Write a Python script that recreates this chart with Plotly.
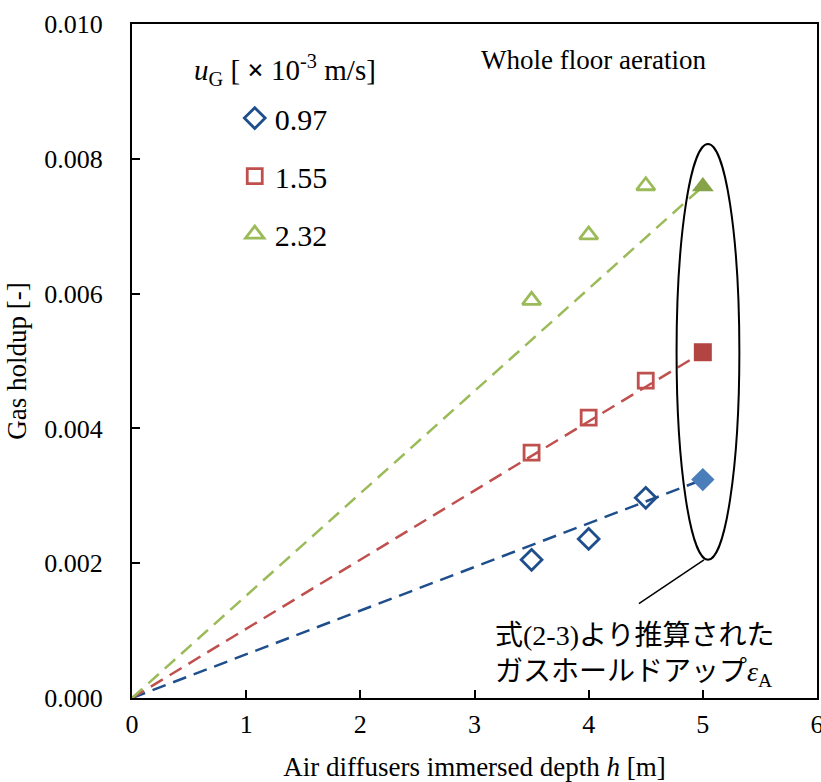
import plotly.graph_objects as go

# Measured gas holdup at three immersion depths per superficial velocity
depth = [3.5, 4.0, 4.5]
holdup_097 = [0.00205, 0.00236, 0.00297]
holdup_155 = [0.00364, 0.00416, 0.00471]
holdup_232 = [0.00590, 0.00687, 0.00760]

# Holdup estimated by Eq. (2-3) at the 5 m depth
depth_est = 5.0
est_097 = 0.00324
est_155 = 0.00513
est_232 = 0.00759

ug_labels = ["0.97", "1.55", "2.32"]
x_ticks = [0, 1, 2, 3, 4, 5, 6]
y_ticks = [0.000, 0.002, 0.004, 0.006, 0.008, 0.010]

series = [
    dict(label=ug_labels[0], y=holdup_097, est=est_097, sym="diamond",
         open_col="#1F4E8C", fill_col="#4A7EBB", line_col="#1F4E8C", size=16, fsize=18),
    dict(label=ug_labels[1], y=holdup_155, est=est_155, sym="square",
         open_col="#C0504D", fill_col="#B24542", line_col="#C0504D", size=15, fsize=18),
    dict(label=ug_labels[2], y=holdup_232, est=est_232, sym="triangle-up",
         open_col="#9BBB59", fill_col="#86A348", line_col="#9BBB59", size=16, fsize=19),
]

serif = "Liberation Serif, Times New Roman, serif"
fig = go.Figure()

for i, s in enumerate(series):
    # Proportional fit through the origin and the estimated point
    fig.add_trace(go.Scatter(
        x=[0, depth_est], y=[0, s["est"]], mode="lines",
        line=dict(color=s["line_col"], width=2.5, dash="14px,8px"),
        showlegend=False, hoverinfo="skip"))
    fig.add_trace(go.Scatter(
        x=depth, y=s["y"], mode="markers", name=s["label"],
        legendgroup=s["label"],
        marker=dict(symbol=s["sym"] + "-open", size=s["size"],
                    color=s["open_col"], line=dict(width=2.8, color=s["open_col"]))))
    fig.add_trace(go.Scatter(
        x=[depth_est], y=[s["est"]], mode="markers", showlegend=False,
        marker=dict(symbol=s["sym"], size=s["fsize"], color=s["fill_col"],
                    line=dict(width=0))))

# Ellipse around the estimated values and its leader line
fig.add_shape(type="circle", xref="x", yref="y",
              x0=4.77, x1=5.32, y0=0.00205, y1=0.00822,
              line=dict(color="black", width=2))
fig.add_shape(type="line", xref="x", yref="y",
              x0=5.01, y0=0.00205, x1=4.44, y1=0.00140,
              line=dict(color="black", width=1.5))

fig.add_annotation(
    xref="paper", yref="paper", x=0.674, y=0.947, xanchor="center", yanchor="middle",
    text="Whole floor aeration", showarrow=False,
    font=dict(family=serif, size=27, color="black"))

fig.add_annotation(
    xref="paper", yref="paper", x=0.088, y=0.932, xanchor="left", yanchor="middle",
    text="<i>u</i><sub>G</sub> [ <b>×</b> 10<sup>-3</sup> m/s]", showarrow=False,
    font=dict(family=serif, size=29, color="black"))

fig.add_annotation(
    xref="paper", yref="paper", x=0.527, y=0.068, xanchor="left", yanchor="middle",
    align="left", showarrow=False,
    text=("式<span style='font-family:Liberation Serif'>(2-3)</span>より推算された<br>"
          "ガスホールドアップ<span style='font-family:Liberation Serif'><i>ε</i>"
          "<sub>A</sub></span>"),
    font=dict(family="Noto Sans CJK JP", size=28, color="black"))

fig.update_layout(
    width=821, height=782,
    margin=dict(l=132, r=4, t=24, b=84),
    paper_bgcolor="white", plot_bgcolor="white",
    font=dict(family=serif, size=26, color="black"),
    showlegend=True,
    legend=dict(x=0.15, y=0.899, xanchor="left", yanchor="top",
                bgcolor="rgba(0,0,0,0)", tracegroupgap=16,
                font=dict(family=serif, size=30, color="black")),
    xaxis=dict(range=[0, 6], tickvals=x_ticks, ticks="inside", ticklen=8,
               tickwidth=1.5, tickcolor="black", showline=True, linewidth=2,
               linecolor="black", mirror=True, showgrid=False, zeroline=False,
               ticklabelstandoff=2, automargin=False, ticklabeloverflow="allow",
               tickfont=dict(family=serif, size=26),
               title=dict(text="Air diffusers immersed depth <i>h</i> [m]",
                          font=dict(family=serif, size=27), standoff=22)),
    yaxis=dict(range=[0, 0.010], tickvals=y_ticks, tickformat=".3f",
               ticks="inside", ticklen=8, tickwidth=1.5, tickcolor="black",
               showline=True, linewidth=2, linecolor="black", mirror=True,
               showgrid=False, zeroline=False, ticklabelstandoff=22,
               automargin=False, ticklabeloverflow="allow",
               tickfont=dict(family=serif, size=26),
               title=dict(text="Gas holdup [-]",
                          font=dict(family=serif, size=27), standoff=10)),
)

fig.write_html("out.html")
